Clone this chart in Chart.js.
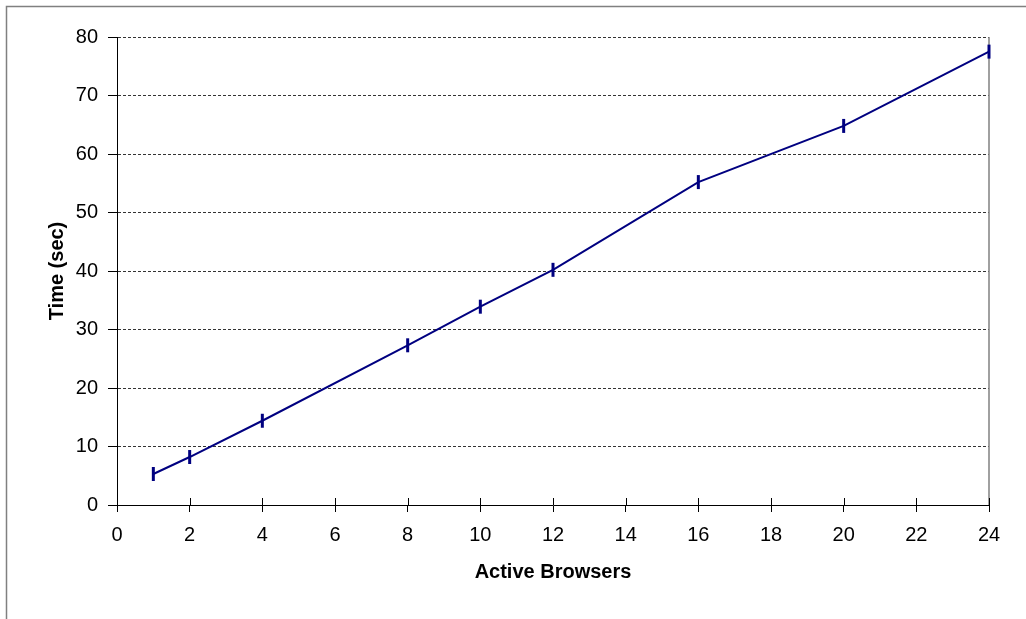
<!DOCTYPE html>
<html>
<head>
<meta charset="utf-8">
<script src="https://cdn.jsdelivr.net/npm/chart.js@4"></script>
<style>
	html, body { margin: 0; padding: 0; background: #fff; }
	#wrap { width: 1026px; height: 619px; }
</style>
</head>
<body>
<div id="wrap"><canvas id="myChart" width="1026" height="619"></canvas></div>
<script>
// values
const browsers = [1, 2, 4, 8, 10, 12, 16, 20, 24];
const timeSec = [5.3, 8.2, 14.4, 27.3, 33.9, 40.2, 55.2, 64.8, 77.5];
const xTicks = [0, 2, 4, 6, 8, 10, 12, 14, 16, 18, 20, 22, 24];
const yTicks = [0, 10, 20, 30, 40, 50, 60, 70, 80];

const fontName = "'Liberation Sans', Arial, sans-serif";

// frame, right border and the ticks that cross the x axis
const framePlugin = {
	id: 'frame',
	beforeDraw(chart) {
		const c = chart.ctx;
		c.save();
		c.strokeStyle = '#808080';
		c.lineWidth = 1.5;
		c.beginPath();
		c.moveTo(6.5, chart.height);
		c.lineTo(6.5, 6.5);
		c.lineTo(chart.width, 6.5);
		c.stroke();
		c.restore();
	},
	beforeDatasetsDraw(chart) {
		const c = chart.ctx;
		const a = chart.chartArea;
		const xs = chart.scales.x;
		c.save();
		c.strokeStyle = '#808080';
		c.lineWidth = 1.5;
		c.beginPath();
		c.moveTo(a.right, a.top);
		c.lineTo(a.right, a.bottom);
		c.stroke();
		c.strokeStyle = '#000';
		c.lineWidth = 1;
		c.beginPath();
		xTicks.forEach(v => {
			const px = Math.round(xs.getPixelForValue(v)) + 0.5;
			c.moveTo(px, a.bottom - 7);
			c.lineTo(px, a.bottom);
		});
		c.stroke();
		c.restore();
	}
};

const ctx = document.getElementById('myChart').getContext('2d');
const myChart = new Chart(ctx, {
	type: 'line',
	data: {
		datasets: [{
			label: 'Time',
			data: browsers.map((b, i) => ({ x: b, y: timeSec[i] })),
			borderColor: '#000080',
			backgroundColor: '#000080',
			borderWidth: 2,
			pointStyle: 'line',
			rotation: 90,
			pointRadius: 7,
			pointBorderWidth: 3,
			pointHoverRadius: 7,
			tension: 0,
			fill: false,
			clip: false
		}]
	},
	options: {
		responsive: false,
		animation: false,
		layout: { padding: { top: 37, right: 37, left: 0, bottom: 0 } },
		plugins: {
			legend: { display: false },
			tooltip: { enabled: false }
		},
		scales: {
			x: {
				type: 'linear',
				min: 0,
				max: 24,
				afterBuildTicks: axis => { axis.ticks = xTicks.map(v => ({ value: v })); },
				afterFit: axis => { axis.height = 114; },
				ticks: {
					color: '#000',
					padding: 11,
					maxRotation: 0,
					font: { family: fontName, size: 20 }
				},
				grid: {
					drawOnChartArea: false,
					drawTicks: true,
					tickLength: 7,
					tickColor: '#000'
				},
				border: { display: true, color: '#000', width: 1 },
				title: {
					display: true,
					text: 'Active Browsers',
					color: '#000',
					padding: { top: 0, bottom: 35 },
					font: { family: fontName, size: 20, weight: 'bold' }
				}
			},
			y: {
				min: 0,
				max: 80,
				afterBuildTicks: axis => { axis.ticks = yTicks.map(v => ({ value: v })); },
				afterFit: axis => { axis.width = 117; },
				ticks: {
					color: '#000',
					padding: 10,
					font: { family: fontName, size: 20 }
				},
				grid: {
					color: ctx => ctx.tick && ctx.tick.value === 0 ? 'rgba(0,0,0,0)' : '#333',
					lineWidth: 1,
					drawTicks: true,
					tickLength: 9,
					tickColor: '#000'
				},
				border: { display: true, color: '#000', width: 1, dash: [3, 2] },
				title: {
					display: true,
					text: 'Time (sec)',
					color: '#000',
					padding: { top: 45, bottom: 0 },
					font: { family: fontName, size: 20, weight: 'bold' }
				}
			}
		}
	},
	plugins: [framePlugin]
});
</script>
</body>
</html>
